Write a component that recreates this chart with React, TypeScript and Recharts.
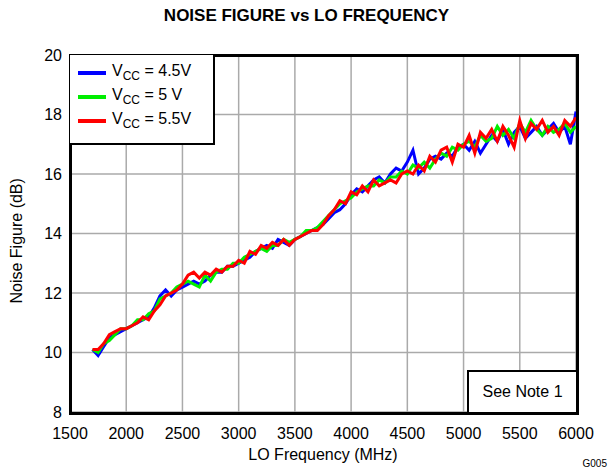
import React from "react";
import { LineChart, Line, XAxis, YAxis, CartesianGrid } from "recharts";

const freqs = Array.from({ length: 87 }, (_, i) => 1700 + i * 50);
const blue = [10.1,9.9,10.2,10.5,10.6,10.7,10.8,10.9,11.0,11.1,11.2,11.5,11.9,12.1,11.9,12.1,12.2,12.3,12.4,12.3,12.4,12.6,12.7,12.7,12.9,12.9,13.0,13.1,13.2,13.4,13.5,13.6,13.5,13.8,13.7,13.6,13.8,13.9,14.0,14.1,14.2,14.3,14.5,14.7,14.8,15.0,15.3,15.5,15.4,15.6,15.8,15.9,15.7,16.0,16.2,16.1,16.4,16.8,16.0,16.2,16.5,16.6,16.5,16.7,16.6,16.9,17.0,16.8,17.1,16.7,17.0,17.3,17.1,17.5,17.0,17.4,17.6,17.2,17.4,17.6,17.3,17.5,17.7,17.4,17.6,17.0,18.1];
const green = [10.1,10.0,10.3,10.4,10.6,10.8,10.8,10.9,11.1,11.1,11.3,11.4,11.8,11.9,12.0,12.2,12.3,12.4,12.3,12.2,12.6,12.4,12.7,12.8,12.8,13.0,13.0,13.2,13.3,13.4,13.5,13.4,13.6,13.6,13.8,13.7,13.8,13.9,14.1,14.1,14.2,14.4,14.6,14.8,15.0,15.1,15.2,15.4,15.5,15.6,15.6,15.8,15.7,15.9,15.9,16.1,16.0,16.3,16.2,16.4,16.2,16.5,16.7,16.6,16.9,16.8,17.0,17.1,16.9,17.3,17.1,17.2,17.6,17.3,17.5,17.2,17.7,17.4,17.8,17.5,17.3,17.6,17.4,17.5,17.7,17.4,17.6];
const red = [10.1,10.1,10.3,10.6,10.7,10.8,10.8,10.9,11.0,11.2,11.1,11.4,11.6,11.9,12.0,12.1,12.3,12.6,12.7,12.5,12.7,12.6,12.8,12.7,12.9,12.9,13.1,13.0,13.4,13.3,13.6,13.5,13.7,13.6,13.8,13.6,13.8,13.9,14.0,14.1,14.1,14.3,14.6,14.8,15.1,15.0,15.4,15.3,15.6,15.4,15.8,15.6,15.7,15.8,15.7,16.0,16.1,16.0,16.3,16.1,16.6,16.4,16.8,16.9,16.4,17.0,16.9,17.3,16.7,17.4,17.2,17.5,17.1,17.6,17.3,16.9,17.8,17.2,17.7,17.5,17.8,17.4,17.6,17.3,17.8,17.6,17.9];
const xTicks = [1500,2000,2500,3000,3500,4000,4500,5000,5500,6000];
const yTicks = [8,10,12,14,16,18,20];

const data = freqs.map((f, i) => ({ f, b: blue[i], g: green[i], r: red[i] }));
const font = "Arial, 'Liberation Sans', sans-serif";

export default function App() {
  const L = 70, T = 55, R = 576, B = 412;
  return (
    <div style={{ position: "absolute", left: 0, top: 0, width: 613, height: 472, background: "#fff", fontFamily: font }}>
      <div style={{ position: "absolute", top: 6, left: 0, width: 613, textAlign: "center", fontWeight: "bold", fontSize: 17 }}>NOISE FIGURE vs LO FREQUENCY</div>
      <LineChart width={613} height={472} data={data} margin={{ top: T, right: 613 - R, bottom: 12, left: 0 }}>
        <CartesianGrid stroke="#aaa" strokeWidth={1.5} />
        <XAxis dataKey="f" type="number" domain={[1500, 6000]} ticks={xTicks} height={48}
          tick={{ fill: "#000", fontSize: 16, fontFamily: font, dy: 8 }} tickLine={false} axisLine={false}
          label={{ value: "LO Frequency (MHz)", position: "insideBottom", offset: 0, fill: "#000", fontSize: 16, fontFamily: font }} />
        <YAxis type="number" domain={[8, 20]} ticks={yTicks} width={L}
          tick={{ fill: "#000", fontSize: 16, fontFamily: font }} tickLine={false} axisLine={false}
          label={{ value: "Noise Figure (dB)", angle: -90, position: "insideLeft", offset: 16, dy: 70, fill: "#000", fontSize: 16, fontFamily: font }} />
        <Line dataKey="b" stroke="#0000ff" strokeWidth={3} dot={false} isAnimationActive={false} />
        <Line dataKey="g" stroke="#00ee00" strokeWidth={3} dot={false} isAnimationActive={false} />
        <Line dataKey="r" stroke="#ff0000" strokeWidth={3} dot={false} isAnimationActive={false} />
      </LineChart>
      <div style={{ position: "absolute", left: L - 1, top: T - 1, width: R - L - 2, height: B - T - 2, border: "3px solid #000", boxSizing: "content-box", pointerEvents: "none" }} />
      <div style={{ position: "absolute", left: L, top: T, width: 145, height: 90, border: "2px solid #000", borderTop: "none", borderLeft: "none", background: "#fff", boxSizing: "border-box", fontSize: 16, padding: "6px 0 0 8px" }}>
        {[["#0000ff", "4.5V"], ["#00ee00", "5 V"], ["#ff0000", "5.5V"]].map(([c, v]) => (
          <div key={v} style={{ display: "flex", alignItems: "center", height: 24 }}>
            <div style={{ width: 28, height: 4, background: c, marginRight: 6 }} />
            <span>V<sub style={{ fontSize: 12 }}>CC</sub> = {v}</span>
          </div>
        ))}
      </div>
      <div style={{ position: "absolute", left: 467, top: 370, width: R - 467, height: B - 370, border: "2px solid #000", borderRight: "none", borderBottom: "none", background: "#fff", boxSizing: "border-box", fontSize: 16, display: "flex", alignItems: "center", justifyContent: "center" }}>See Note 1</div>
      <div style={{ position: "absolute", right: 6, top: 458, fontSize: 10 }}>G005</div>
    </div>
  );
}
